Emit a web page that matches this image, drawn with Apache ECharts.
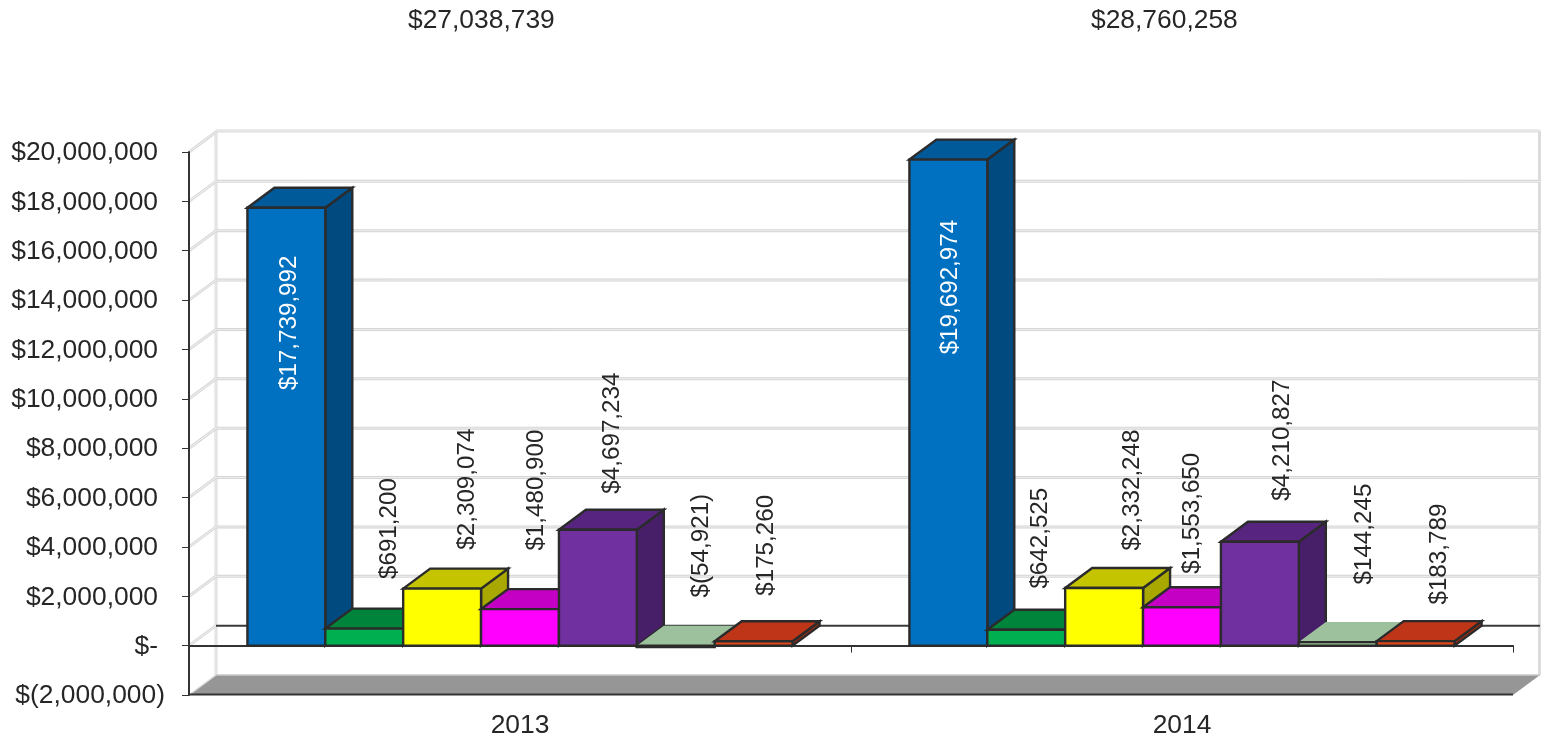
<!DOCTYPE html>
<html>
<head>
<meta charset="utf-8">
<style>html,body{margin:0;padding:0;background:#fff}#chart{width:1541px;height:739px}</style>
<script src="https://cdn.jsdelivr.net/npm/echarts@6/dist/echarts.min.js"></script>
</head>
<body>
<div id="chart"></div>
<script>
const categories = ['2013', '2014'];
const totals = ['$27,038,739', '$28,760,258'];
const yTicks = [-2000000, 0, 2000000, 4000000, 6000000, 8000000, 10000000, 12000000, 14000000, 16000000, 18000000, 20000000];

const blueValues = [17739992, 19692974];
const greenValues = [691200, 642525];
const yellowValues = [2309074, 2332248];
const magentaValues = [1480900, 1553650];
const purpleValues = [4697234, 4210827];
const sageValues = [-54921, 144245];
const redValues = [175260, 183789];

const frontColors = ['#0070c0', '#00b050', '#ffff00', '#ff00ff', '#7030a0', '#9bc29b', '#e0481a'];
const topColors = ['#005a9a', '#00843c', '#c4c400', '#c400c4', '#572580', '#9cc19c', '#bf3517'];
const sideColors = ['#004a80', '#006f33', '#a8a800', '#a800a8', '#471f68', '#7fa07f', '#9a2b12'];
const labelColors = ['#ffffff', '#262626', '#262626', '#262626', '#262626', '#262626', '#262626'];
// pixel shift of each hand-placed value label from the bar's top-centre, per category
const labelShift2013 = [[3, 115], [25, -100], [25, -99.5], [16, -119], [14, -96.6], [26, -100], [13, -96]];
const labelShift2014 = [[2, 127.5], [14, -91.6], [28, -98], [10, -94], [22, -101.6], [27, -108], [24, -87]];

const allValues = [blueValues, greenValues, yellowValues, magentaValues, purpleValues, sageValues, redValues];
const DX = 27, DY = 20;
const EDGE = '#2b2b2b';
const FONT = '"Liberation Sans", Arial, sans-serif';

function fmt(v) {
  const s = Math.abs(v).toString().replace(/\B(?=(\d{3})+(?!\d))/g, ',');
  return v < 0 ? '$(' + s + ')' : '$' + s;
}
function tickFmt(v) {
  if (v === 0) return '{p|$-}';
  if (v < 0) return '{n|' + fmt(v) + '}';
  return '{p|' + fmt(v) + '}';
}

function poly(points, fill, stroke, width) {
  return { type: 'polygon', shape: { points: points },
    style: { fill: fill, stroke: stroke || fill, lineWidth: stroke ? (width || 2.4) : 0, lineJoin: 'miter' } };
}
function line(x1, y1, x2, y2, color, width) {
  return { type: 'line', shape: { x1: x1, y1: y1, x2: x2, y2: y2 },
    style: { stroke: color, lineWidth: width, fill: null } };
}

function barRenderer(si) {
  return function (params, api) {
    const cat = api.value(0), v = api.value(1);
    const band = api.size([1, 0])[0];
    const w = band / 8.5;
    const c0 = api.coord([cat, 0]);
    const c1 = api.coord([cat, v]);
    const x0 = c0[0] - band / 2 + 0.75 * w + si * w;
    const x1 = x0 + w;
    const yTop = Math.min(c0[1], c1[1]);
    const yBot = Math.max(c0[1], c1[1]);
    const noTopEdge = si === 5;
    const shift = (cat === 0 ? labelShift2013 : labelShift2014)[si];
    const children = [
      poly([[x1, yTop], [x1 + DX, yTop - DY], [x1 + DX, yBot - DY], [x1, yBot]], sideColors[si], noTopEdge ? null : EDGE),
      poly([[x0, yTop], [x0 + DX, yTop - DY], [x1 + DX, yTop - DY], [x1, yTop]], topColors[si], noTopEdge ? null : EDGE),
      poly([[x0, yTop], [x1, yTop], [x1, yBot], [x0, yBot]], frontColors[si], EDGE),
      { type: 'text', x: (x0 + x1) / 2 + shift[0], y: yTop + shift[1], rotation: Math.PI / 2, z2: 50,
        style: { text: fmt(v), x: 0, y: 0, align: 'center', verticalAlign: 'middle', fill: labelColors[si],
          font: '24.2px ' + FONT } }
    ];
    return { type: 'group', children: children };
  };
}

function wallRenderer(params, api) {
  const cs = params.coordSys;
  const v = api.value(1);
  const y = api.coord([0, v])[1];
  const xL = cs.x, xR = cs.x + cs.width;
  const c = [];
  if (v === yTicks[0]) {
    // floor and vertical wall edges
    c.push(line(xL + DX, cs.y - DY - 1.5, xL + DX, y - DY, '#d9d9d9', 3));
    c.push(line(xL + DX, cs.y - DY - 1.5, xL + DX, y - DY, '#f2f2f2', 1));
    c.push(line(xR + DX - 0.5, cs.y - DY - 1.5, xR + DX - 0.5, y - DY, '#dcdcdc', 3));
    c.push(line(xL + DX, cs.y - DY - 1, xR + DX, cs.y - DY - 1, '#d9d9d9', 3));
    c.push(line(xL + DX, cs.y - DY - 1, xR + DX, cs.y - DY - 1, '#f2f2f2', 1));
    c.push(poly([[xL, y], [xR, y], [xR + DX, y - DY], [xL + DX, y - DY]], '#969696'));
    c.push(line(xL + DX, y - DY, xR + DX, y - DY, '#c8c8c8', 1.5));
    c.push(line(xL, y, xL + DX, y - DY, '#d9d9d9', 1.5));
    c.push(line(xL, y - 0.5, xR, y - 0.5, '#333333', 2));
  } else if (v === 0) {
    c.push(line(xL, y, xL + DX, y - DY, '#d9d9d9', 3));
    c.push(line(xL, y, xL + DX, y - DY, '#f2f2f2', 1));
    c.push(line(xL + DX, y - DY, xR + DX, y - DY, '#3a3a3a', 2));
  } else if (v !== yTicks[yTicks.length - 1]) {
    c.push(line(xL, y, xL + DX, y - DY, '#d9d9d9', 3));
    c.push(line(xL, y, xL + DX, y - DY, '#f2f2f2', 1));
    c.push(line(xL + DX, y - DY, xR + DX, y - DY, '#d4d4d4', 3));
    c.push(line(xL + DX, y - DY, xR + DX, y - DY, '#f0f0f0', 1));
  } else {
    c.push(line(xL, y, xL + DX, y - DY, '#d9d9d9', 3));
    c.push(line(xL, y, xL + DX, y - DY, '#f2f2f2', 1));
  }
  return { type: 'group', children: c };
}

const barSeries = allValues.map(function (vals, si) {
  return {
    type: 'custom', name: 'Series ' + (si + 1), z: 3 + si,
    renderItem: barRenderer(si), clip: false, silent: true, animation: false,
    encode: { x: 0, y: 1 },
    data: vals.map(function (v, i) { return [i, v]; })
  };
});

const chart = echarts.init(document.getElementById('chart'), null, { renderer: 'canvas' });
chart.setOption({
  animation: false,
  backgroundColor: '#ffffff',
  title: totals.map(function (t, i) {
    return { text: t, left: [408, 1091][i], top: 0, padding: [8, 0, 0, 0],
      textStyle: { fontFamily: FONT, fontSize: 26.4, fontWeight: 'normal', color: '#262626' } };
  }),
  grid: { left: 189, right: 28, top: 152, bottom: 44, containLabel: false, outerBoundsMode: 'none' },
  xAxis: {
    type: 'category', data: categories, z: 2,
    axisLine: { onZero: true, lineStyle: { color: '#333333', width: 2 } },
    axisTick: { show: true, length: 7, lineStyle: { color: '#333333', width: 1 } },
    axisLabel: { margin: 18, fontFamily: FONT, fontSize: 26.4, color: '#262626' },
    splitLine: { show: false }
  },
  yAxis: {
    type: 'value', min: -2000000, max: 20000000, interval: 2000000, z: 6,
    axisLine: { show: true, lineStyle: { color: '#333333', width: 2 } },
    axisTick: { show: true, length: 7, lineStyle: { color: '#333333', width: 1 } },
    axisLabel: {
      margin: 24, formatter: tickFmt,
      rich: {
        p: { fontFamily: FONT, fontSize: 26.4, color: '#262626', padding: [2, 7, 0, 0] },
        n: { fontFamily: FONT, fontSize: 26.4, color: '#262626', padding: [2, 0, 0, 0] }
      }
    },
    splitLine: { show: false }
  },
  series: [{
    type: 'custom', name: 'walls', z: 1, renderItem: wallRenderer, clip: false, silent: true,
    encode: { x: 0, y: 1 },
    data: yTicks.map(function (v) { return [0, v]; })
  }].concat(barSeries)
});
</script>
</body>
</html>
